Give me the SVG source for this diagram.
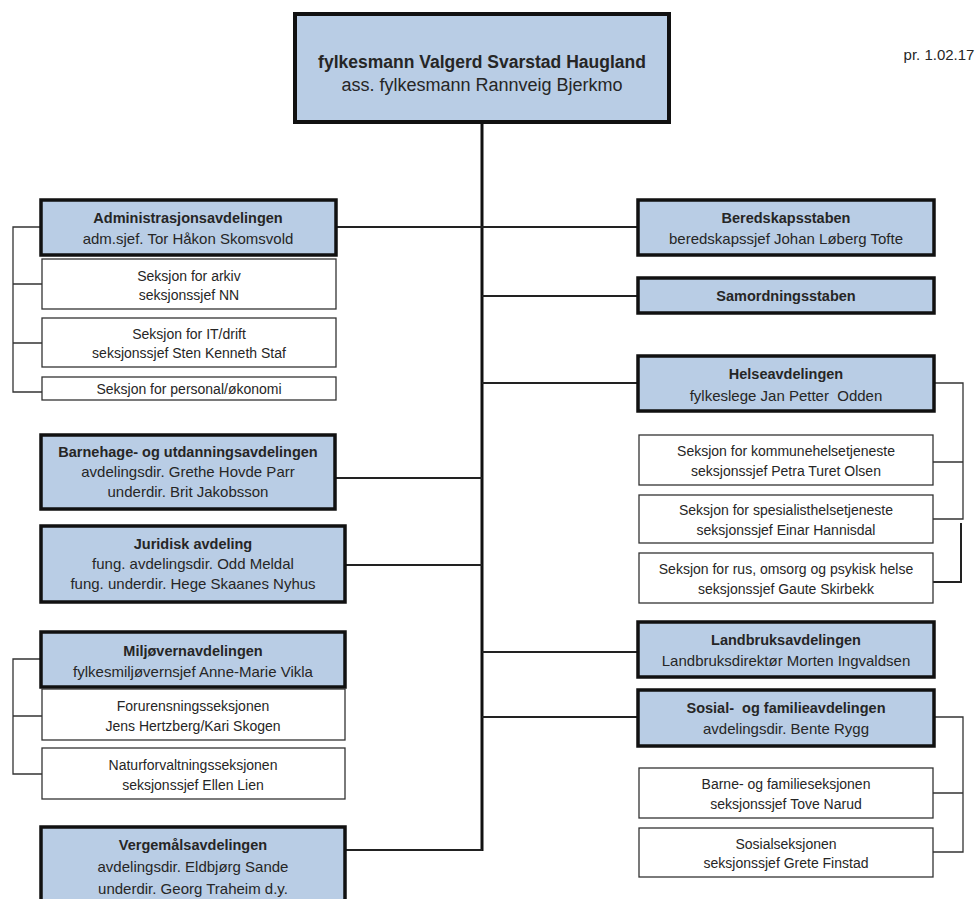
<svg xmlns="http://www.w3.org/2000/svg" width="980" height="899" viewBox="0 0 980 899">
<style>
.dept{fill:#b9cde5;stroke:#111;stroke-width:3.5}
.top{fill:#b9cde5;stroke:#111;stroke-width:4}
.sec{fill:#fff;stroke:#333;stroke-width:1.3}
text{font-family:"Liberation Sans",Arial,sans-serif;fill:#262626;text-anchor:middle}
.b{font-weight:bold;font-size:14.5px}
.r{font-size:15px}
.s{font-size:14px}
.trunk{stroke:#111;stroke-width:3;fill:none}
.br{stroke:#222;stroke-width:2;fill:none}
.th{stroke:#333;stroke-width:1.3;fill:none}
</style>
<rect width="980" height="899" fill="#fff"/>
<g id="connectors">
<line class="trunk" x1="482" y1="122" x2="482" y2="851"/>
<line class="br" x1="336" y1="227" x2="482" y2="227"/>
<line class="br" x1="335" y1="478" x2="482" y2="478"/>
<line class="br" x1="345" y1="565" x2="482" y2="565"/>
<line class="br" x1="345" y1="850" x2="482" y2="850"/>
<line class="br" x1="482" y1="227" x2="638" y2="227"/>
<line class="br" x1="482" y1="296" x2="638" y2="296"/>
<line class="br" x1="482" y1="383" x2="638" y2="383"/>
<line class="br" x1="482" y1="652" x2="638" y2="652"/>
<line class="br" x1="482" y1="717" x2="638" y2="717"/>
<path class="th" d="M41 227H13V392H42M13 284H42M13 343H42"/>
<path class="th" d="M41 659H13V774H42M13 716H42"/>
<path class="th" d="M934 383H963V519H933M963 462H933"/>
<path class="br" d="M961 523V582H933"/>
<path class="th" d="M934 717H963V852H933M963 793H933"/>
</g>
<g id="pr"><text x="939" y="60" style="font-size:15px">pr. 1.02.17</text></g>
<g id="fylkesmann">
<rect class="top" x="295" y="14" width="374" height="108"/>
<text x="482" y="68" style="font-weight:bold;font-size:17.5px">fylkesmann Valgerd Svarstad Haugland</text>
<text x="482" y="91" style="font-size:18px">ass. fylkesmann Rannveig Bjerkmo</text>
</g>
<g id="admin">
<rect class="dept" x="41" y="200" width="295" height="55"/>
<text class="b" x="188" y="223">Administrasjonsavdelingen</text>
<text class="r" x="188" y="244">adm.sjef. Tor Håkon Skomsvold</text>
</g>
<g id="arkiv">
<rect class="sec" x="42" y="259" width="294" height="50"/>
<text class="s" x="189" y="281">Seksjon for arkiv</text>
<text class="s" x="189" y="300">seksjonssjef NN</text>
</g>
<g id="it">
<rect class="sec" x="42" y="318" width="294" height="49"/>
<text class="s" x="189" y="339">Seksjon for IT/drift</text>
<text class="s" x="189" y="358">seksjonssjef Sten Kenneth Staf</text>
</g>
<g id="personal">
<rect class="sec" x="42" y="377" width="294" height="23"/>
<text class="s" x="189" y="394">Seksjon for personal/økonomi</text>
</g>
<g id="barnehage">
<rect class="dept" x="41" y="435" width="294" height="74"/>
<text class="b" x="188" y="457">Barnehage- og utdanningsavdelingen</text>
<text class="r" x="188" y="477">avdelingsdir. Grethe Hovde Parr</text>
<text class="r" x="188" y="497">underdir. Brit Jakobsson</text>
</g>
<g id="juridisk">
<rect class="dept" x="41" y="526" width="304" height="76"/>
<text class="b" x="193" y="549">Juridisk avdeling</text>
<text class="r" x="193" y="569">fung. avdelingsdir. Odd Meldal</text>
<text class="r" x="193" y="589">fung. underdir. Hege Skaanes Nyhus</text>
</g>
<g id="miljo">
<rect class="dept" x="41" y="632" width="304" height="55"/>
<text class="b" x="193" y="656">Miljøvernavdelingen</text>
<text class="r" x="193" y="677">fylkesmiljøvernsjef Anne-Marie Vikla</text>
</g>
<g id="forurensning">
<rect class="sec" x="42" y="689" width="303" height="51"/>
<text class="s" x="193" y="711">Forurensningsseksjonen</text>
<text class="s" x="193" y="731">Jens Hertzberg/Kari Skogen</text>
</g>
<g id="natur">
<rect class="sec" x="42" y="748" width="303" height="51"/>
<text class="s" x="193" y="770">Naturforvaltningsseksjonen</text>
<text class="s" x="193" y="790">seksjonssjef Ellen Lien</text>
</g>
<g id="vergemal">
<rect class="dept" x="41" y="827" width="304" height="80"/>
<text class="b" x="193" y="850">Vergemålsavdelingen</text>
<text class="r" x="193" y="872">avdelingsdir. Eldbjørg Sande</text>
<text class="r" x="193" y="894">underdir. Georg Traheim d.y.</text>
</g>
<g id="beredskap">
<rect class="dept" x="638" y="200" width="296" height="55"/>
<text class="b" x="786" y="223">Beredskapsstaben</text>
<text class="r" x="786" y="244">beredskapssjef Johan Løberg Tofte</text>
</g>
<g id="samordning">
<rect class="dept" x="638" y="278" width="296" height="35"/>
<text class="b" x="786" y="301">Samordningsstaben</text>
</g>
<g id="helse">
<rect class="dept" x="638" y="356" width="296" height="55"/>
<text class="b" x="786" y="379">Helseavdelingen</text>
<text class="r" x="786" y="401" xml:space="preserve">fylkeslege Jan Petter  Odden</text>
</g>
<g id="kommunehelse">
<rect class="sec" x="639" y="435" width="294" height="50"/>
<text class="s" x="786" y="456">Seksjon for kommunehelsetjeneste</text>
<text class="s" x="786" y="476">seksjonssjef Petra Turet Olsen</text>
</g>
<g id="spesialist">
<rect class="sec" x="639" y="495" width="294" height="48"/>
<text class="s" x="786" y="515">Seksjon for spesialisthelsetjeneste</text>
<text class="s" x="786" y="535">seksjonssjef Einar Hannisdal</text>
</g>
<g id="rus">
<rect class="sec" x="639" y="553" width="294" height="50"/>
<text class="s" x="786" y="574">Seksjon for rus, omsorg og psykisk helse</text>
<text class="s" x="786" y="594">seksjonssjef Gaute Skirbekk</text>
</g>
<g id="landbruk">
<rect class="dept" x="638" y="622" width="296" height="55"/>
<text class="b" x="786" y="645">Landbruksavdelingen</text>
<text class="r" x="786" y="666">Landbruksdirektør Morten Ingvaldsen</text>
</g>
<g id="sosial">
<rect class="dept" x="638" y="690" width="296" height="56"/>
<text class="b" x="786" y="713" xml:space="preserve">Sosial-  og familieavdelingen</text>
<text class="r" x="786" y="734">avdelingsdir. Bente Rygg</text>
</g>
<g id="barnefamilie">
<rect class="sec" x="639" y="768" width="294" height="50"/>
<text class="s" x="786" y="789">Barne- og familieseksjonen</text>
<text class="s" x="786" y="809">seksjonssjef Tove Narud</text>
</g>
<g id="sosialseksjon">
<rect class="sec" x="639" y="828" width="294" height="49"/>
<text class="s" x="786" y="849">Sosialseksjonen</text>
<text class="s" x="786" y="868">seksjonssjef Grete Finstad</text>
</g>
</svg>
